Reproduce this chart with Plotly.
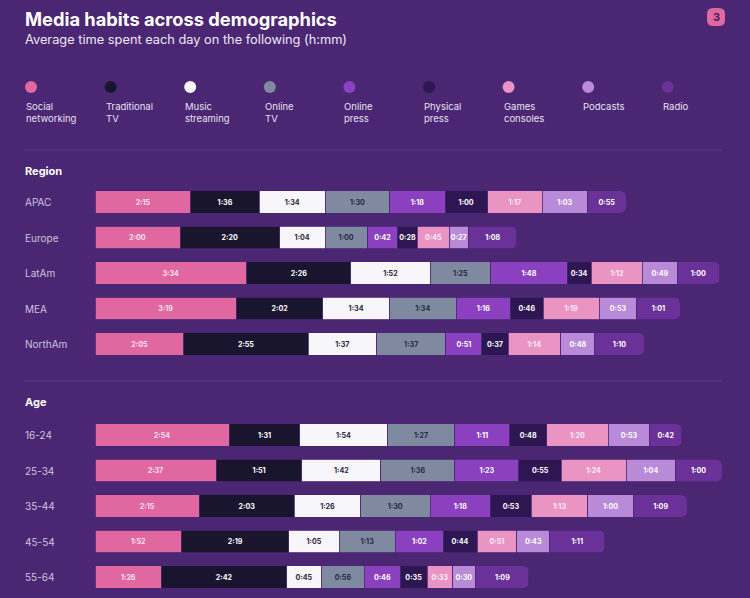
import plotly.graph_objects as go

# ------------------------------------------------------------------------
# Data (h:mm)

media = ["Social networking", "Traditional TV", "Music streaming", "Online TV",
         "Online press", "Physical press", "Games consoles", "Podcasts", "Radio"]
legend_labels = ["Social<br>networking", "Traditional<br>TV", "Music<br>streaming",
                 "Online<br>TV", "Online<br>press", "Physical<br>press",
                 "Games<br>consoles", "Podcasts", "Radio"]

regions = ["APAC", "Europe", "LatAm", "MEA", "NorthAm"]
apac = ["2:15", "1:36", "1:34", "1:30", "1:18", "1:00", "1:17", "1:03", "0:55"]
europe = ["2:00", "2:20", "1:04", "1:00", "0:42", "0:28", "0:45", "0:27", "1:08"]
latam = ["3:34", "2:26", "1:52", "1:25", "1:48", "0:34", "1:12", "0:49", "1:00"]
mea = ["3:19", "2:02", "1:34", "1:34", "1:16", "0:46", "1:19", "0:53", "1:01"]
northam = ["2:05", "2:55", "1:37", "1:37", "0:51", "0:37", "1:14", "0:48", "1:10"]

ages = ["16-24", "25-34", "35-44", "45-54", "55-64"]
age_16_24 = ["2:54", "1:31", "1:54", "1:27", "1:11", "0:48", "1:20", "0:53", "0:42"]
age_25_34 = ["2:37", "1:51", "1:42", "1:36", "1:23", "0:55", "1:24", "1:04", "1:00"]
age_35_44 = ["2:15", "2:03", "1:26", "1:30", "1:18", "0:53", "1:13", "1:00", "1:09"]
age_45_54 = ["1:52", "2:19", "1:05", "1:13", "1:02", "0:44", "0:51", "0:43", "1:11"]
age_55_64 = ["1:26", "2:42", "0:45", "0:56", "0:46", "0:35", "0:33", "0:30", "1:09"]

region_rows = [apac, europe, latam, mea, northam]
age_rows = [age_16_24, age_25_34, age_35_44, age_45_54, age_55_64]

# ------------------------------------------------------------------------
# Styling

bg = "#4a2673"
colors = ["#e0679f", "#19152e", "#f7f6fb", "#7f8aa1", "#8a40bf",
          "#2d1651", "#e994c3", "#b88ad7", "#6a3198"]
text_colors = ["#fbe3ef", "#ffffff", "#2a2540", "#262b3c", "#ffffff",
               "#ffffff", "#fdeef6", "#ffffff", "#ffffff"]
font_family = "Inter"
W, H = 750, 598


def to_minutes(s):
    h, m = s.split(":")
    return int(h) * 60 + int(m)


def px_y(y):
    return 1 - y / H


def px_x(x):
    return x / W


fig = go.Figure()

for i, name in enumerate(media):
    for rows, cats, xa, ya in [(region_rows, regions, "x", "y"),
                               (age_rows, ages, "x2", "y2")]:
        labels = [r[i] for r in rows]
        fig.add_trace(go.Bar(
            x=[to_minutes(v) for v in labels],
            y=cats,
            orientation="h",
            name=name,
            showlegend=False,
            marker=dict(color=colors[i], line=dict(color=bg, width=0.8)),
            text=labels,
            textposition="inside",
            insidetextanchor="middle",
            textangle=0,
            textfont=dict(family=font_family, size=8, color=text_colors[i], weight="bold"),
            hovertemplate="%{y}<br>" + name + ": %{text}<extra></extra>",
            xaxis=xa,
            yaxis=ya,
        ))

x_domain = [px_x(95), px_x(722)]
# the two panels in the original are drawn at slightly different scales
region_range = [0, 883]
age_range = [0, 812]

fig.update_layout(
    width=W, height=H,
    margin=dict(l=0, r=0, t=0, b=0),
    paper_bgcolor=bg,
    plot_bgcolor=bg,
    barmode="stack",
    bargap=0.38,
    barcornerradius=5,
    uniformtext=dict(minsize=7, mode="show"),
    font=dict(family=font_family, color="#ffffff"),
    showlegend=False,
    xaxis=dict(domain=x_domain, range=region_range, visible=False, anchor="y"),
    xaxis2=dict(domain=x_domain, range=age_range, visible=False, anchor="y2"),
    yaxis=dict(domain=[px_y(361.75), px_y(184.25)], type="category",
               categoryarray=regions, range=[4.5, -0.5], visible=False, anchor="x"),
    yaxis2=dict(domain=[px_y(594.75), px_y(417.25)], type="category",
                categoryarray=ages, range=[4.5, -0.5], visible=False, anchor="x2"),
)

# Title and subtitle
fig.add_annotation(x=px_x(23), y=px_y(19), xref="paper", yref="paper",
                   text="<b>Media habits across demographics</b>", showarrow=False,
                   xanchor="left", yanchor="middle",
                   font=dict(family=font_family, size=18.3, color="#ffffff"))
fig.add_annotation(x=px_x(23), y=px_y(40), xref="paper", yref="paper",
                   text="Average time spent each day on the following (h:mm)", showarrow=False,
                   xanchor="left", yanchor="middle",
                   font=dict(family=font_family, size=12.8, color="#eee6f5"))

# Page badge
fig.add_shape(type="path", xref="paper", yref="paper",
              xsizemode="pixel", ysizemode="pixel",
              xanchor=px_x(716), yanchor=px_y(17),
              path="M -3,-9 L 3,-9 Q 9,-9 9,-3 L 9,3 Q 9,9 3,9 L -3,9 Q -9,9 -9,3 L -9,-3 Q -9,-9 -3,-9 Z",
              fillcolor="#e0679f", line=dict(width=0), layer="below")
fig.add_annotation(x=px_x(716), y=px_y(17), xref="paper", yref="paper",
                   text="<b>3</b>", showarrow=False,
                   xanchor="center", yanchor="middle",
                   font=dict(family=font_family, size=11, color="#3f1d66"))

# Legend: dots with labels underneath
for i, lab in enumerate(legend_labels):
    cx = 31 + i * 79.6
    fig.add_shape(type="circle", xref="paper", yref="paper",
                  xsizemode="pixel", ysizemode="pixel",
                  xanchor=px_x(cx), yanchor=px_y(87),
                  x0=-6, x1=6, y0=-6, y1=6,
                  fillcolor=colors[i], line=dict(width=0))
    fig.add_annotation(x=px_x(cx - 7), y=px_y(99), xref="paper", yref="paper",
                       text=lab, showarrow=False, xanchor="left", yanchor="top",
                       align="left",
                       font=dict(family=font_family, size=9.5, color="#e9e0f2"))

# Separators and section headers
for sep_y, header, header_y in [(150, "Region", 171), (381, "Age", 402)]:
    fig.add_shape(type="line", xref="paper", yref="paper",
                  x0=px_x(24), x1=px_x(722), y0=px_y(sep_y), y1=px_y(sep_y),
                  line=dict(color="#5f3b88", width=1))
    fig.add_annotation(x=px_x(23), y=px_y(header_y), xref="paper", yref="paper",
                       text="<b>" + header + "</b>", showarrow=False,
                       xanchor="left", yanchor="middle",
                       font=dict(family=font_family, size=11, color="#ffffff"))

# Row labels
for cats, yref in [(regions, "y"), (ages, "y2")]:
    for c in cats:
        fig.add_annotation(x=px_x(23), y=c, xref="paper", yref=yref,
                           text=c, showarrow=False, xanchor="left", yanchor="middle",
                           font=dict(family=font_family, size=10, color="#cfc3df"))

# drop the browser's default page margin so the figure fills the window
fig.write_html("out.html", config={"displayModeBar": False},
               post_script="document.body.style.margin='0';document.body.style.overflow='hidden';")
